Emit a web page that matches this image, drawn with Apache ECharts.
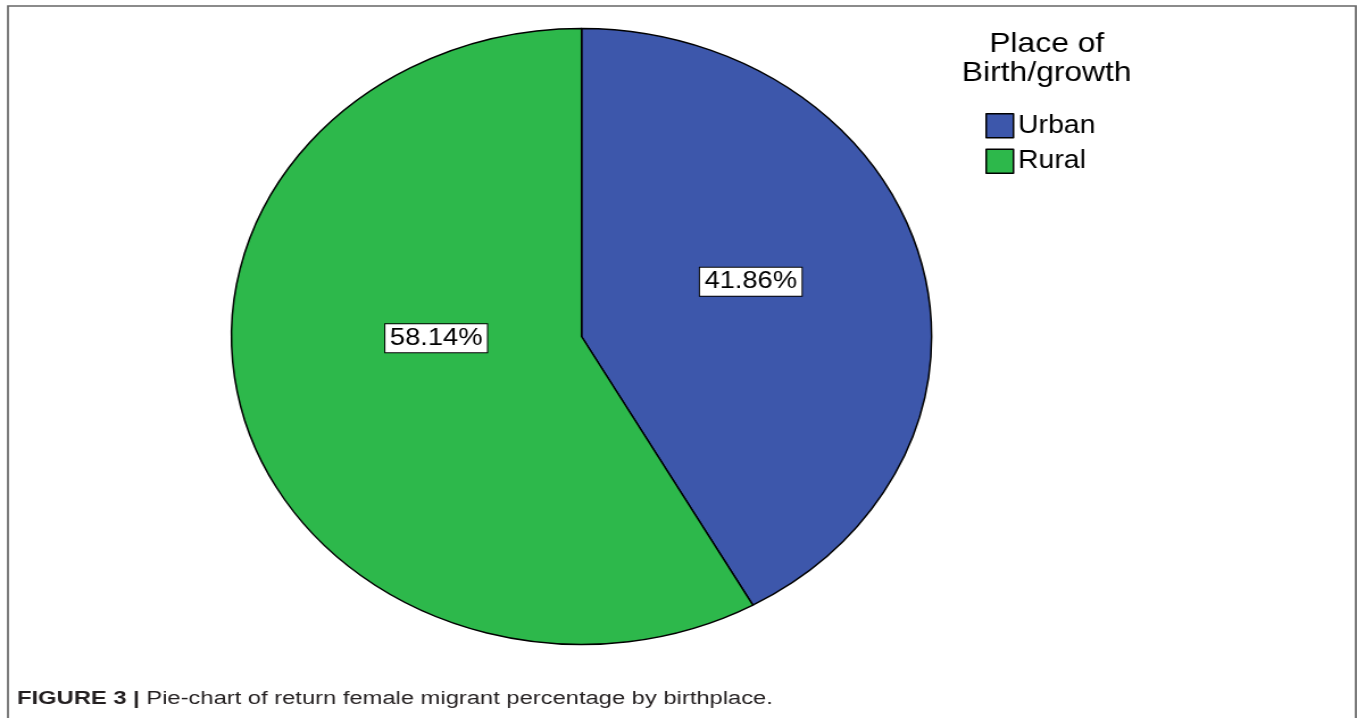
<!DOCTYPE html>
<html>
<head>
<meta charset="utf-8">
<script src="https://cdn.jsdelivr.net/npm/echarts@6/dist/echarts.min.js"></script>
<style>
  html, body { margin: 0; padding: 0; background: #fff; overflow: hidden; }
  /* the reference figure is stretched horizontally, so the whole chart is */
  #wrap { width: 1194px; height: 718px; transform: scaleX(1.1365); transform-origin: 0 0; }
  #chart { width: 1194px; height: 718px; }
</style>
</head>
<body>
<div id="wrap"><div id="chart"></div></div>
<script>
// data
let categories = ['Urban', 'Rural'];
let percents = [41.86, 58.14];
let colors = ['#3d57ab', '#2db84b'];
let legendTitle = 'Place of\nBirth/growth';
let captionBold = 'FIGURE 3 |';
let captionText = 'Pie-chart of return female migrant percentage by birthplace.';

// small label nudges (px) so the boxes sit where SPSS put them
let labelNudge = [[-3, -15], [24, -38]];

let chart = echarts.init(document.getElementById('chart'));

chart.setOption({
  animation: false,
  textStyle: { fontFamily: 'Liberation Sans, Arial, sans-serif' },
  legend: {
    orient: 'vertical',
    left: 862,
    top: 108,
    icon: 'rect',
    itemWidth: 24,
    itemHeight: 24,
    itemGap: 10,
    selectedMode: false,
    itemStyle: { borderColor: '#000', borderWidth: 1.5 },
    textStyle: { color: '#000', fontSize: 25, padding: [0, 0, 0, -1] },
    data: categories
  },
  graphic: [
    {
      type: 'rect',
      silent: true,
      shape: { x: 7, y: 6, width: 1186, height: 800 },
      style: { fill: 'none', stroke: '#666', lineWidth: 1.7 }
    },
    {
      type: 'text',
      x: 921,
      y: 30,
      silent: true,
      style: {
        text: legendTitle,
        fill: '#000',
        font: '28px "Liberation Sans", Arial, sans-serif',
        lineHeight: 29,
        textAlign: 'center',
        textVerticalAlign: 'top'
      }
    },
    {
      type: 'text',
      x: 15,
      y: 699,
      scaleX: 1.16,
      silent: true,
      style: {
        text: '{b|' + captionBold + '} ' + captionText,
        fill: '#231f20',
        font: '18px "Liberation Sans", Arial, sans-serif',
        textVerticalAlign: 'middle',
        rich: {
          b: { fontWeight: 'bold', fontSize: 18, fill: '#231f20' }
        }
      }
    }
  ],
  series: [{
    type: 'pie',
    center: [511.7, 336.5],
    radius: 308,
    startAngle: 90,
    clockwise: true,
    emphasis: { disabled: true },
    itemStyle: { borderColor: '#000', borderWidth: 1.5 },
    label: {
      position: 'inside',
      color: '#000',
      fontSize: 24,
      lineHeight: 24,
      backgroundColor: '#fff',
      borderColor: '#000',
      borderWidth: 1,
      padding: [3, 4, 1, 4],
      formatter: function (p) { return p.value.toFixed(2) + '%'; }
    },
    labelLine: { show: false },
    labelLayout: function (p) {
      return { dx: labelNudge[p.dataIndex][0], dy: labelNudge[p.dataIndex][1] };
    },
    data: categories.map(function (c, i) {
      return { name: c, value: percents[i], itemStyle: { color: colors[i] } };
    })
  }]
});
</script>
</body>
</html>
